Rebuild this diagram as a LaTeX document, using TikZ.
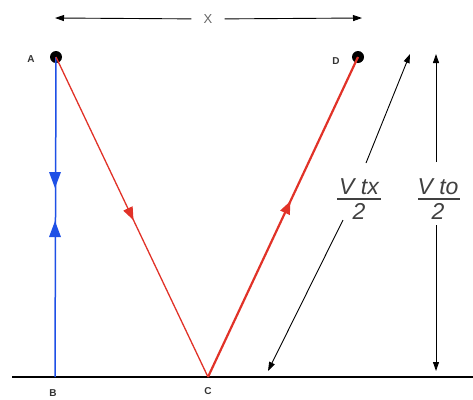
\documentclass[tikz,border=0pt]{standalone}
\usepackage{fontspec}
\setmainfont{Liberation Sans}
\usetikzlibrary{arrows.meta,decorations.markings}
\definecolor{rayred}{RGB}{225,50,40}
\definecolor{rayblue}{RGB}{30,80,230}
\begin{document}
\begin{tikzpicture}[x=1pt,y=-1pt,
  dot/.style={circle,fill=black,inner sep=0pt,minimum size=12pt},
  lbl/.style={font=\fontsize{10}{11}\selectfont\bfseries,text=black!80,inner sep=1pt},
  dim/.style={-{Triangle[length=9pt,width=6pt]},black,line width=0.9pt},
  midarrow/.style={postaction={decorate},decoration={markings,mark=at position #1 with {\arrow{Triangle[length=13pt,width=10pt]}}}},
  frac/.style={font=\fontsize{23}{26}\selectfont\itshape,text=black!75,inner sep=0pt}]
\useasboundingbox (0,0) rectangle (473,399);
% points
\coordinate (Bp) at (55,377);
\coordinate (Cp) at (208,377);
\node[dot] (A) at (56,57) {};
\node[dot] (D) at (358,57) {};
\node[lbl] (la) at (31,59) {A};
\node[lbl] (ld) at (336,61) {D};
\node[lbl] (lb) at (53,393) {B};
\node[lbl] (lc) at (208,391) {C};
% ground
\coordinate (g1) at (12,377);
\coordinate (g2) at (473,377);
\draw[line width=1.4pt] (g1) -- (g2);
% blue
\draw[draw=rayblue,line width=1.5pt] (A.center) -- (Bp);
\draw[draw=none,fill=rayblue] (55,188) -- (49,172) -- (61,172) -- cycle;
\draw[draw=none,fill=rayblue] (55,221) -- (49,237) -- (61,237) -- cycle;
% red
\draw[rayred,line width=1.3pt,midarrow=0.51] (A.center) -- (Cp);
\draw[rayred,line width=2.2pt,midarrow=0.55] (Cp) -- (D.center);
% X dimension
\coordinate (x1) at (55,18);
\coordinate (x2) at (362,18);
\node[font=\fontsize{13}{14}\selectfont,text=black!60,inner sep=0pt,minimum width=33pt] (xl) at (208,19) {X};
\draw[dim] (xl) -- (x1);
\draw[dim] (xl) -- (x2);
% Vtx/2
\node[frac,anchor=south] (ntx) at (359,195) {V tx};
\node[frac,anchor=north] (dtx) at (359,203) {2};
\coordinate (btx1) at (337,199);
\coordinate (btx2) at (381,199);
\draw[line width=1.3pt,black!75] (btx1) -- (btx2);
\coordinate (t1) at (410,54);
\coordinate (t2) at (268,371);
\coordinate (t1s) at (366,163);
\coordinate (t2s) at (343,220);
\draw[dim] (t1s) -- (t1);
\draw[dim] (t2s) -- (t2);
% Vto/2
\node[frac,anchor=south] (nto) at (438,195) {V to};
\node[frac,anchor=north] (dto) at (438,203) {2};
\coordinate (bto1) at (418,199);
\coordinate (bto2) at (460,199);
\draw[line width=1.3pt,black!75] (bto1) -- (bto2);
\coordinate (o1) at (436,54);
\coordinate (o2) at (436,371);
\coordinate (o1s) at (436,162);
\coordinate (o2s) at (436,225);
\draw[dim] (o1s) -- (o1);
\draw[dim] (o2s) -- (o2);
\end{tikzpicture}
\end{document}
